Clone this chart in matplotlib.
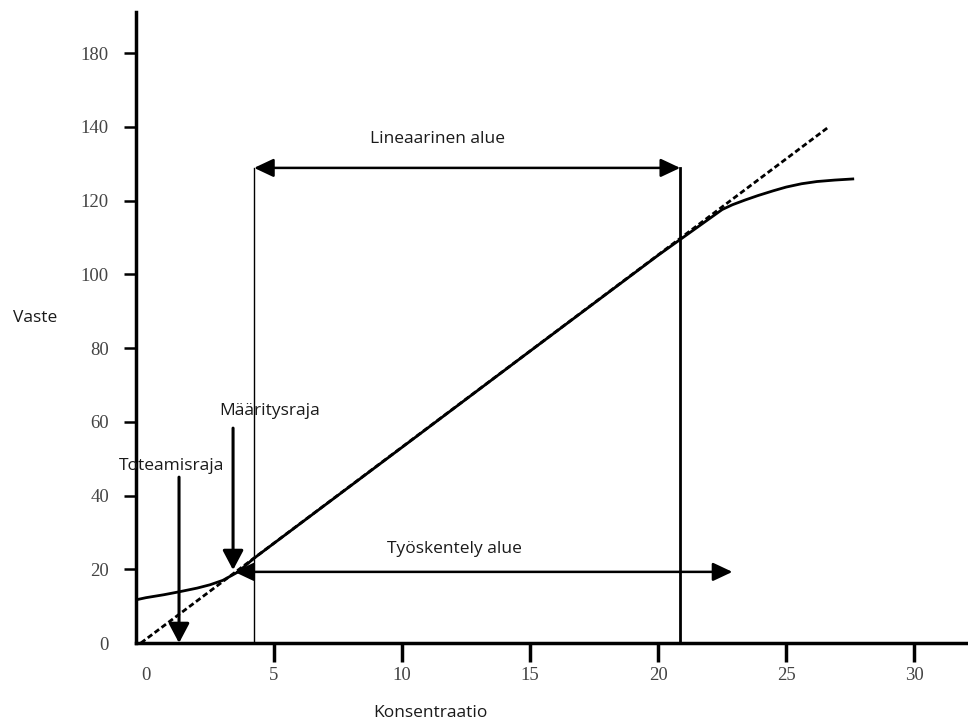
import matplotlib.pyplot as plt

# axis ticks (the top label reads "180" in the original even though it sits at 160)
x_ticks = [0, 5, 10, 15, 20, 25, 30]
y_ticks = [0, 20, 40, 60, 80, 100, 120, 140, 160]
y_tick_labels = ["0", "20", "40", "60", "80", "100", "120", "140", "180"]

# measured response curve
resp_x = [-0.4, 0.0, 0.7, 1.3, 2.0, 2.5, 3.0, 3.6, 4.2, 10.0, 15.0, 20.0, 22.5,
          22.9, 23.4, 23.9, 24.5, 25.0, 25.6, 26.2, 26.9, 27.6]
resp_y = [11.7, 12.3, 13.1, 13.9, 14.9, 15.8, 17.0, 19.3, 22.9, 53.1, 79.2, 105.2, 117.6,
          118.9, 120.2, 121.4, 122.7, 123.7, 124.6, 125.2, 125.6, 125.9]

# ideal linear response (dashed)
lin_x = [-0.2, 26.6]
lin_y = [0.0, 139.7]

# ranges and limits
linear_range = [4.22, 20.86]
linear_y = 128.9
work_range = [3.45, 22.9]
work_y = 19.3
loq_x, loq_top, loq_tip = 3.4, 58.3, 19.8
lod_x, lod_top = 1.29, 45.0

fig = plt.figure(figsize=(9.68, 7.22), dpi=100)
ax = fig.add_axes([0.1405, 0.1094, 0.8595, 0.8740])

ax.plot(lin_x, lin_y, color="black", lw=2, linestyle=(0, (2.0, 1.1)))
ax.plot(resp_x, resp_y, color="black", lw=2)

# vertical boundaries of the linear range
ax.plot([linear_range[0], linear_range[0]], [0, linear_y], color="black", lw=1)
ax.plot([linear_range[1], linear_range[1]], [0, linear_y], color="black", lw=2)

arrow_both = dict(arrowstyle="<|-|>,head_length=0.85,head_width=0.4", color="black",
                  lw=1.8, shrinkA=0, shrinkB=0, mutation_scale=14)
arrow_one = dict(arrowstyle="-|>,head_length=0.85,head_width=0.45", color="black",
                 lw=2.2, shrinkA=0, shrinkB=0, mutation_scale=14)

ax.annotate("", xy=(linear_range[0], linear_y), xytext=(linear_range[1], linear_y),
            arrowprops=arrow_both)
ax.annotate("", xy=(work_range[0], work_y), xytext=(work_range[1], work_y),
            arrowprops=arrow_both)
ax.annotate("", xy=(loq_x, loq_tip), xytext=(loq_x, loq_top), arrowprops=arrow_one)
ax.annotate("", xy=(lod_x, 0), xytext=(lod_x, lod_top), arrowprops=arrow_one,
            annotation_clip=False)

label_font = dict(family="Open Sans", fontsize=12.5, color="#1a1a1a", ha="center", va="center")
ax.text(11.4, 136.7, "Lineaarinen alue", **label_font)
ax.text(12.03, 25.5, "Työskentely alue", **label_font)
ax.text(4.84, 63.0, "Määritysraja", **label_font)
ax.text(0.98, 48.0, "Toteamisraja", **label_font)

fig.text(35 / 968, 1 - 318 / 722, "Vaste", **label_font)
fig.text(430 / 968, 1 - 713 / 722, "Konsentraatio", **label_font)

ax.set_xlim(-0.39, 32.1)
ax.set_ylim(0, 171.2)
ax.set_xticks(x_ticks)
ax.set_yticks(y_ticks)
ax.set_yticklabels(y_tick_labels)
# the zero ticks are hidden by the axis lines in the original
ax.xaxis.get_major_ticks()[0].tick1line.set_visible(False)
ax.yaxis.get_major_ticks()[0].tick1line.set_visible(False)

for side in ["top", "right"]:
    ax.spines[side].set_visible(False)
for side in ["left", "bottom"]:
    ax.spines[side].set_linewidth(2.5)

ax.tick_params(axis="y", direction="out", length=8.5, width=1.8, pad=11,
               labelsize=13.5, labelcolor="#444444")
ax.tick_params(axis="x", direction="out", length=14, width=2.5, pad=3,
               labelsize=13.5, labelcolor="#444444")
for lab in ax.get_xticklabels() + ax.get_yticklabels():
    lab.set_family("Liberation Serif")

fig.savefig("out.png", dpi=100)
